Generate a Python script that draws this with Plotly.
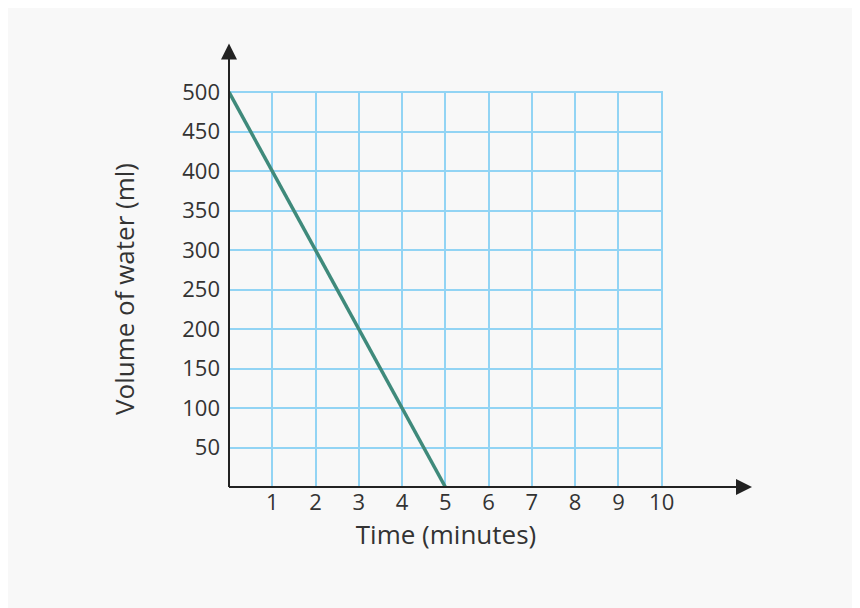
import plotly.graph_objects as go

time_min = [0, 5]
volume_ml = [500, 0]
x_ticks = [1, 2, 3, 4, 5, 6, 7, 8, 9, 10]
y_ticks = [50, 100, 150, 200, 250, 300, 350, 400, 450, 500]

grid = "#92d4f4"
font = dict(family="Open Sans", size=22, color="#333333")

fig = go.Figure(go.Scatter(x=time_min, y=volume_ml, mode="lines",
                           line=dict(color="#3f8a7b", width=3.5)))

fig.update_layout(
    width=860, height=608,
    paper_bgcolor="#f8f8f8", plot_bgcolor="#f8f8f8",
    margin=dict(l=221, r=205, t=83, b=129),
    showlegend=False,
    font=font,
)
fig.update_xaxes(range=[0, 10.03], tickvals=x_ticks, showgrid=True, gridcolor=grid,
                 gridwidth=2, zeroline=False, showline=False, ticks="",
                 title=dict(text="Time (minutes)", standoff=10))
fig.update_yaxes(range=[0, 501.5], tickvals=y_ticks, showgrid=True, gridcolor=grid,
                 gridwidth=2, zeroline=False, showline=False, ticks="",
                 ticklabelstandoff=8,
                 title=dict(text="Volume of water (ml)", standoff=40))

# axis lines with arrowheads, extending past the grid
fig.add_shape(type="line", xref="paper", yref="paper", x0=0, y0=0, x1=1.19, y1=0,
              line=dict(color="#222222", width=2))
fig.add_shape(type="line", xref="paper", yref="paper", x0=0, y0=0, x1=0, y1=1.10,
              line=dict(color="#222222", width=2))
fig.add_annotation(xref="paper", yref="paper", x=1.205, y=0, ax=-10, ay=0,
                   showarrow=True, arrowhead=2, arrowsize=1.6, arrowwidth=2,
                   arrowcolor="#222222", text="")
fig.add_annotation(xref="paper", yref="paper", x=0, y=1.12, ax=0, ay=10,
                   showarrow=True, arrowhead=2, arrowsize=1.6, arrowwidth=2,
                   arrowcolor="#222222", text="")

fig.write_html("out.html")
